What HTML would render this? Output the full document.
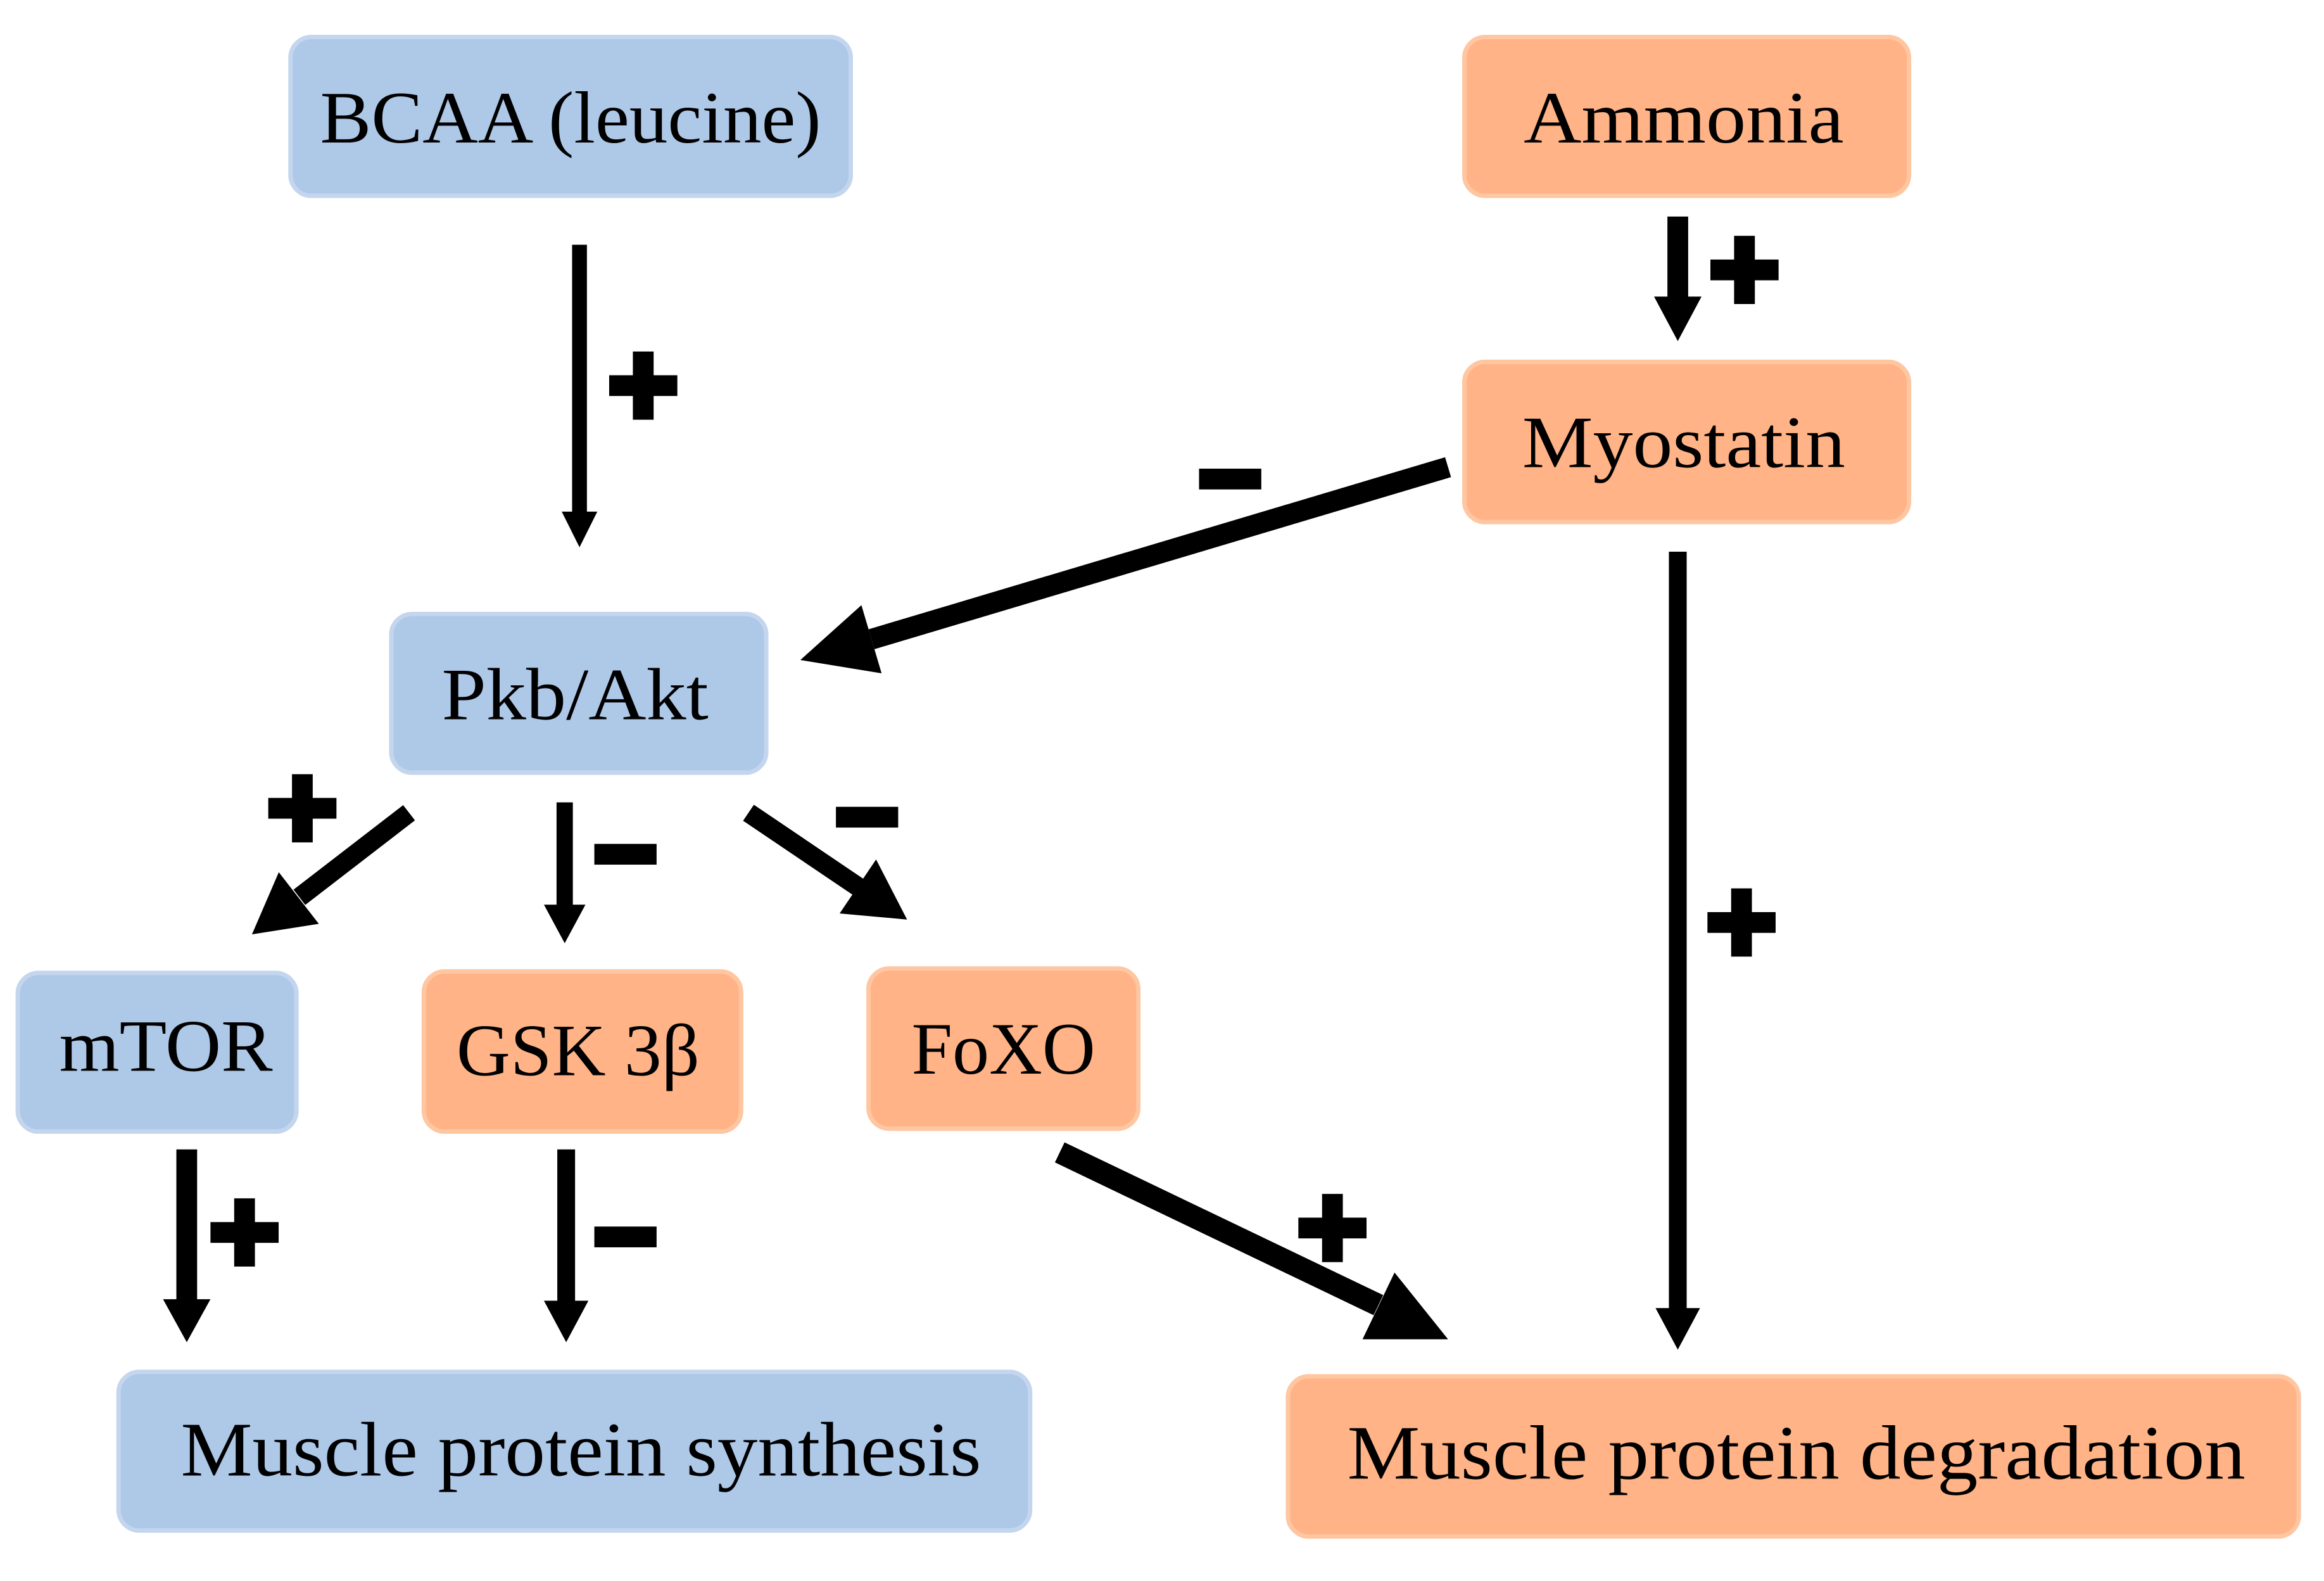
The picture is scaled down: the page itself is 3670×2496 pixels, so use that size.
<!DOCTYPE html>
<html><head><meta charset="utf-8"><style>
html,body{margin:0;padding:0;background:#fff;}
svg{display:block;}
text{font-family:"Liberation Serif",serif;fill:#000;}
</style></head><body>
<svg width="3670" height="2496" viewBox="0 0 1568 1066" preserveAspectRatio="none" xmlns="http://www.w3.org/2000/svg">
<defs>
<g id="plus"><rect x="-23" y="-7" width="46" height="14"/><rect x="-7" y="-23" width="14" height="46"/></g>
<rect id="minus" x="-21" y="-7" width="42" height="14"/>
</defs>
<g stroke-width="3">
<rect x="196" y="25" width="378" height="107" rx="14" fill="#aec8e8" stroke="#c4d6ee"/>
<rect x="988" y="25" width="300" height="107" rx="14" fill="#ffb386" stroke="#ffc6a2"/>
<rect x="988" y="244" width="300" height="108" rx="14" fill="#ffb386" stroke="#ffc6a2"/>
<rect x="264" y="414" width="253" height="107" rx="14" fill="#aec8e8" stroke="#c4d6ee"/>
<rect x="12" y="656" width="188" height="107" rx="14" fill="#aec8e8" stroke="#c4d6ee"/>
<rect x="286" y="655" width="214" height="108" rx="14" fill="#ffb386" stroke="#ffc6a2"/>
<rect x="586" y="653" width="182" height="108" rx="14" fill="#ffb386" stroke="#ffc6a2"/>
<rect x="80" y="925" width="615" height="107" rx="14" fill="#aec8e8" stroke="#c4d6ee"/>
<rect x="869" y="928" width="682" height="108" rx="14" fill="#ffb386" stroke="#ffc6a2"/>
</g>
<g font-size="50" text-anchor="middle">
<text x="385" y="96" textLength="338" lengthAdjust="spacingAndGlyphs">BCAA (leucine)</text>
<text x="1136" y="96" textLength="216" lengthAdjust="spacingAndGlyphs">Ammonia</text>
<text x="1136" y="315" textLength="218" lengthAdjust="spacingAndGlyphs">Myostatin</text>
<text x="388" y="485" textLength="180" lengthAdjust="spacingAndGlyphs">Pkb/Akt</text>
<text x="112" y="722" textLength="144" lengthAdjust="spacingAndGlyphs">mTOR</text>
<text x="390" y="725" textLength="164" lengthAdjust="spacingAndGlyphs">GSK 3β</text>
<text x="677" y="724" textLength="124" lengthAdjust="spacingAndGlyphs">FoXO</text>
<text x="392" y="995" font-size="52" textLength="540" lengthAdjust="spacingAndGlyphs">Muscle protein synthesis</text>
<text x="1212" y="997" font-size="52" textLength="606" lengthAdjust="spacingAndGlyphs">Muscle protein degradation</text>
</g>
<g stroke="#000" fill="none">
<line x1="391" y1="165" x2="391" y2="346" stroke-width="10"/>
<line x1="1132" y1="146" x2="1132" y2="201" stroke-width="14"/>
<line x1="977" y1="315" x2="588" y2="431" stroke-width="14"/>
<line x1="1132" y1="372" x2="1132" y2="883" stroke-width="12"/>
<line x1="276" y1="548" x2="202" y2="605" stroke-width="13"/>
<line x1="381" y1="541" x2="381" y2="611" stroke-width="11"/>
<line x1="505" y1="548" x2="579" y2="598" stroke-width="13"/>
<line x1="126" y1="775" x2="126" y2="877" stroke-width="14"/>
<line x1="382" y1="775" x2="382" y2="878" stroke-width="12"/>
<line x1="715" y1="777" x2="930" y2="880" stroke-width="15"/>
</g>
<g fill="#000">
<polygon points="379,345 403,345 391,369"/>
<polygon points="1116,200 1148,200 1132,230"/>
<polygon points="1117,882 1147,882 1132,910"/>
<polygon points="367,610 395,610 381,636"/>
<polygon points="110,876 142,876 126,905"/>
<polygon points="367,877 397,877 382,905"/>
<polygon points="594.8,454 581.2,408 540,445"/>
<polygon points="215.1,622.9 188.1,588.1 170,630"/>
<polygon points="566.5,615.9 591.1,579.5 612,620"/>
<polygon points="919.3,903 940.9,858 977,903"/>
<use href="#plus" x="434" y="260"/>
<use href="#plus" x="1177" y="182"/>
<use href="#minus" x="830" y="323"/>
<use href="#plus" x="1175" y="622"/>
<use href="#plus" x="204" y="545"/>
<use href="#minus" x="422" y="576"/>
<use href="#minus" x="585" y="551"/>
<use href="#plus" x="165" y="831"/>
<use href="#minus" x="422" y="834"/>
<use href="#plus" x="899" y="828"/>
</g>
</svg>
</body></html>
